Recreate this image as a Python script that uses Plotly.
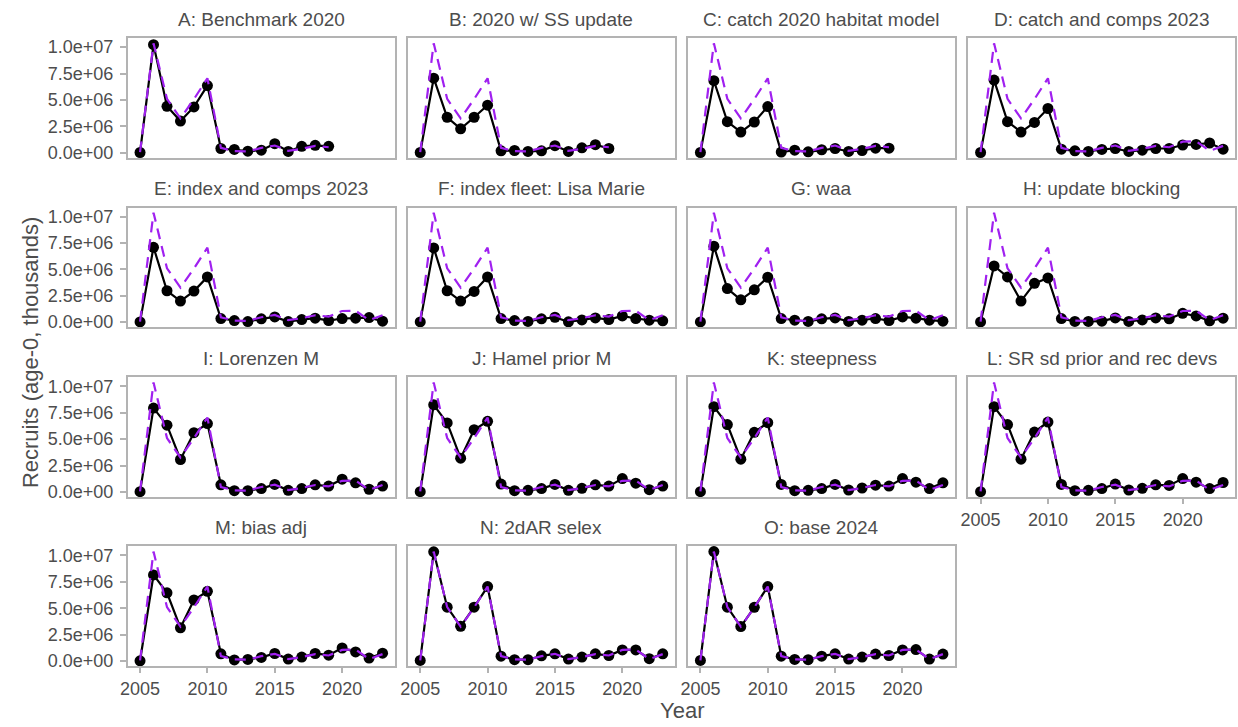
import plotly.graph_objects as go

# ---- data: age-0 recruits by model scenario (values in millions) ----
SCALE = 1e6
years = list(range(2005, 2024))

panel_titles = [
    "A: Benchmark 2020", "B: 2020 w/ SS update", "C: catch 2020 habitat model",
    "D: catch and comps 2023", "E: index and comps 2023", "F: index fleet: Lisa Marie",
    "G: waa", "H: update blocking", "I: Lorenzen M", "J: Hamel prior M",
    "K: steepness", "L: SR sd prior and rec devs", "M: bias adj", "N: 2dAR selex",
    "O: base 2024",
]

rec_A = [0.02, 10.24, 4.40, 3.00, 4.34, 6.36, 0.40, 0.31, 0.15, 0.24, 0.86, 0.12, 0.61, 0.70, 0.61]
rec_B = [0.02, 7.06, 3.36, 2.26, 3.36, 4.50, 0.18, 0.21, 0.12, 0.18, 0.67, 0.12, 0.46, 0.76, 0.40]
rec_C = [0.02, 6.82, 2.94, 1.96, 2.91, 4.37, 0.06, 0.24, 0.09, 0.28, 0.40, 0.12, 0.21, 0.43, 0.43]
rec_D = [0.02, 6.88, 2.94, 1.96, 2.87, 4.19, 0.34, 0.18, 0.12, 0.31, 0.40, 0.12, 0.24, 0.40, 0.40,
         0.73, 0.79, 0.92, 0.34]
rec_E = [0.02, 7.09, 2.97, 1.99, 2.94, 4.28, 0.34, 0.15, 0.05, 0.31, 0.49, 0.05, 0.24, 0.37, 0.15,
         0.34, 0.37, 0.43, 0.09]
rec_F = [0.02, 7.03, 2.97, 1.99, 2.91, 4.28, 0.34, 0.15, 0.06, 0.31, 0.46, 0.03, 0.21, 0.40, 0.24,
         0.58, 0.34, 0.18, 0.12]
rec_G = [0.02, 7.19, 3.18, 2.11, 3.06, 4.25, 0.34, 0.18, 0.06, 0.31, 0.40, 0.06, 0.18, 0.34, 0.15,
         0.49, 0.37, 0.18, 0.09]
rec_H = [0.02, 5.32, 4.28, 1.99, 3.67, 4.19, 0.34, 0.06, 0.06, 0.09, 0.40, 0.06, 0.21, 0.40, 0.31,
         0.83, 0.58, 0.12, 0.37]
rec_I = [0.02, 7.94, 6.32, 3.07, 5.61, 6.47, 0.67, 0.12, 0.12, 0.31, 0.71, 0.15, 0.31, 0.67, 0.55,
         1.20, 0.86, 0.25, 0.55]
rec_J = [0.02, 8.25, 6.53, 3.19, 5.89, 6.69, 0.74, 0.12, 0.15, 0.31, 0.71, 0.15, 0.34, 0.67, 0.55,
         1.26, 0.83, 0.21, 0.55]
rec_K = [0.02, 8.07, 6.38, 3.10, 5.64, 6.56, 0.71, 0.12, 0.15, 0.31, 0.71, 0.18, 0.37, 0.64, 0.55,
         1.26, 0.92, 0.31, 0.86]
rec_L = [0.02, 8.07, 6.38, 3.10, 5.67, 6.62, 0.71, 0.12, 0.15, 0.31, 0.74, 0.18, 0.34, 0.67, 0.61,
         1.26, 0.92, 0.31, 0.89]
rec_M = [0.02, 8.15, 6.46, 3.14, 5.78, 6.60, 0.68, 0.10, 0.15, 0.34, 0.71, 0.18, 0.37, 0.71, 0.55,
         1.23, 0.86, 0.28, 0.74]
rec_N = [0.05, 10.34, 5.10, 3.29, 5.10, 7.05, 0.46, 0.12, 0.12, 0.49, 0.68, 0.18, 0.37, 0.68, 0.52,
         1.05, 1.05, 0.22, 0.68]
rec_O = [0.05, 10.37, 5.10, 3.26, 5.08, 7.05, 0.46, 0.15, 0.12, 0.46, 0.68, 0.18, 0.37, 0.65, 0.52,
         1.05, 1.08, 0.18, 0.65]

scenarios = [rec_A, rec_B, rec_C, rec_D, rec_E, rec_F, rec_G, rec_H,
             rec_I, rec_J, rec_K, rec_L, rec_M, rec_N, rec_O]
base_run = rec_O

y_tickvals = [0.0, 2.5, 5.0, 7.5, 10.0]
y_ticktext = ["0.0e+00", "2.5e+06", "5.0e+06", "7.5e+06", "1.0e+07"]
x_tickvals = [2005, 2010, 2015, 2020]

# ---- layout geometry (pixels) ----
W, H = 1238, 727
col_left = [120.7, 402.7, 684.7, 966.7]
col_w = 268.5
row_top = [37.5, 208.3, 379.5, 550.0]
row_h = 120.8

FONT = "Liberation Sans, Arial, sans-serif"
TXT = "#4d4d4d"
BORDER = "#b3b3b3"
PURPLE = "#A020F0"
TICK_SIZE = 18

fig = go.Figure()
layout = dict(
    width=W, height=H, margin=dict(l=0, r=0, t=0, b=0),
    paper_bgcolor="white", plot_bgcolor="white", showlegend=False,
    font=dict(family=FONT, color=TXT),
)
annotations = []
n_panels = len(scenarios)
bottom_panels = {k for k in range(n_panels) if k + 4 >= n_panels}

for k, vals in enumerate(scenarios):
    r, c = divmod(k, 4)
    sfx = "" if k == 0 else str(k + 1)
    xs = years[:len(vals)]
    yv = [v * SCALE for v in vals]
    yb = [v * SCALE for v in base_run[:len(vals)]]

    fig.add_trace(go.Scatter(
        x=xs, y=yv, mode="lines+markers", xaxis="x" + sfx, yaxis="y" + sfx,
        line=dict(color="black", width=2.2),
        marker=dict(color="black", size=11),
        cliponaxis=False, hoverinfo="skip",
    ))
    fig.add_trace(go.Scatter(
        x=xs, y=yb, mode="lines", xaxis="x" + sfx, yaxis="y" + sfx,
        line=dict(color=PURPLE, width=2.2, dash="11px,7px"),
        hoverinfo="skip",
    ))

    x0 = col_left[c] / W
    x1 = (col_left[c] + col_w) / W
    y1 = 1 - row_top[r] / H
    y0 = 1 - (row_top[r] + row_h) / H
    show_x = k in bottom_panels
    show_y = c == 0

    layout["xaxis" + sfx] = dict(
        domain=[x0, x1], anchor="y" + sfx, range=[2004.1, 2023.9],
        showgrid=False, zeroline=False,
        showline=True, mirror=True, linecolor=BORDER, linewidth=2,
        tickvals=x_tickvals, showticklabels=show_x,
        ticks="outside" if show_x else "", ticklen=5, tickwidth=1.5,
        tickcolor=BORDER, tickfont=dict(size=TICK_SIZE, color=TXT, family=FONT),
    )
    layout["yaxis" + sfx] = dict(
        domain=[y0, y1], anchor="x" + sfx, range=[-0.5e6, 10.85e6],
        showgrid=False, zeroline=False,
        showline=True, mirror=True, linecolor=BORDER, linewidth=2,
        tickvals=[v * SCALE for v in y_tickvals], ticktext=y_ticktext,
        showticklabels=show_y,
        ticks="outside" if show_y else "", ticklen=6, tickwidth=1.5,
        tickcolor=BORDER, tickfont=dict(size=TICK_SIZE, color=TXT, family=FONT),
        ticklabelstandoff=3,
    )

    annotations.append(dict(
        text=panel_titles[k], xref="paper", yref="paper",
        x=(x0 + x1) / 2, y=1 - (row_top[r] - 19) / H,
        xanchor="center", yanchor="middle", showarrow=False,
        font=dict(size=19, color=TXT, family=FONT),
    ))

# shared axis titles
annotations.append(dict(
    text="Year", xref="paper", yref="paper",
    x=(col_left[0] + col_left[3] + col_w) / 2 / W, y=1 - 715 / H,
    xanchor="center", yanchor="middle", showarrow=False,
    font=dict(size=22, color=TXT, family=FONT),
))
annotations.append(dict(
    text="Recruits (age-0, thousands)", xref="paper", yref="paper",
    x=22 / W, y=1 - (row_top[0] + row_top[3] + row_h) / 2 / H,
    xanchor="center", yanchor="middle", showarrow=False, textangle=-90,
    font=dict(size=22, color=TXT, family=FONT),
))

layout["annotations"] = annotations
fig.update_layout(**layout)
fig.write_html("out.html")
